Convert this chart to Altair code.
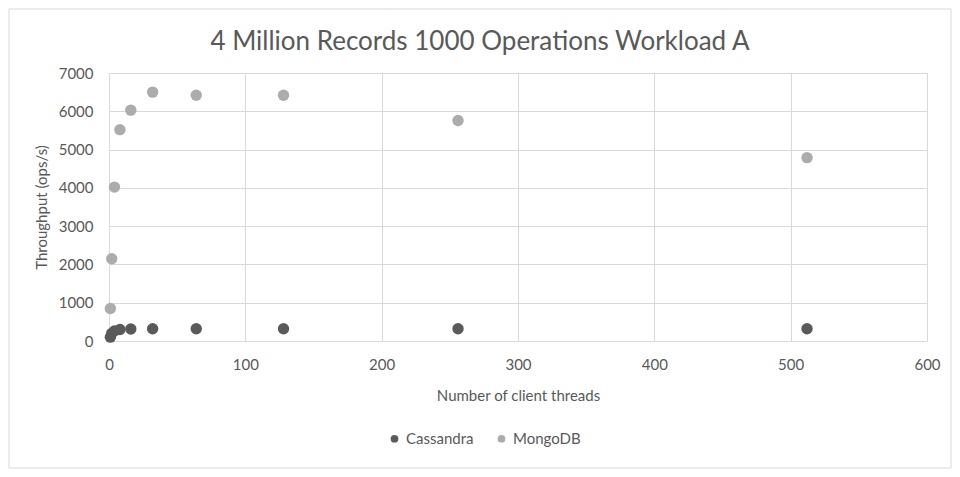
import altair as alt
import pandas as pd

threads = [1, 2, 4, 8, 16, 32, 64, 128, 256, 512]
cassandra = [100, 200, 260, 300, 315, 320, 320, 320, 320, 320]
mongodb = [850, 2150, 4020, 5520, 6030, 6500, 6420, 6420, 5760, 4790]
title_text = ["4 Million Records 1000 Operations Workload A"]

df = pd.DataFrame({
    "threads": threads * 2,
    "throughput": cassandra + mongodb,
    "db": ["Cassandra"] * len(threads) + ["MongoDB"] * len(threads),
})

FONT = "Lato"
TXT = "#595959"

points = alt.Chart(df).mark_circle(size=130, opacity=1).encode(
    x=alt.X("threads:Q", title="Number of client threads",
            scale=alt.Scale(domain=[0, 600], nice=False),
            axis=alt.Axis(values=[0, 100, 200, 300, 400, 500, 600], format="d", labelFlush=False,
                          labelPadding=16, titlePadding=16)),
    y=alt.Y("throughput:Q", title="Throughput (ops/s)",
            scale=alt.Scale(domain=[0, 7000], nice=False),
            axis=alt.Axis(values=[0, 1000, 2000, 3000, 4000, 5000, 6000, 7000], format="d",
                          labelFlush=False, labelPadding=16, titlePadding=9)),
    color=alt.Color("db:N", title=None,
                    scale=alt.Scale(domain=["Cassandra", "MongoDB"], range=["#5a5a5a", "#acacac"]),
                    legend=alt.Legend(orient="none", direction="horizontal", legendX=278, legendY=358,
                                      symbolSize=60, labelFontSize=15, labelFont=FONT, labelColor=TXT,
                                      columnPadding=20, symbolOpacity=1)),
)

border = alt.Chart(pd.DataFrame({"k": [0]})).mark_rect(fill=None, stroke="#d9d9d9", strokeWidth=1).encode(
    x=alt.value(-100), x2=alt.value(842), y=alt.value(-64), y2=alt.value(395)
)

title = alt.Chart(pd.DataFrame({"t": title_text})).mark_text(
    font=FONT, fontSize=26, color=TXT, align="center", baseline="alphabetic"
).encode(text="t:N", x=alt.value(371), y=alt.value(-23))

chart = alt.layer(border, points, title).properties(
    width=818, height=268,
    padding={"left": 101, "top": 65, "right": 25, "bottom": 128},
    autosize=alt.AutoSizeParams(type="none"),
    background="white",
).configure_view(stroke=None).configure_axis(
    grid=True, gridColor="#d9d9d9", domain=False, ticks=False,
    labelFont=FONT, labelFontSize=15, labelColor=TXT,
    titleFont=FONT, titleFontSize=15, titleColor=TXT, titleFontWeight="normal",
)

chart.save("out.html", embed_options={"renderer": "svg", "actions": False})
